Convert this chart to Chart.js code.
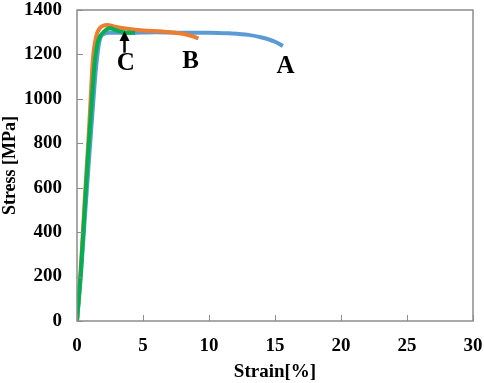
<!doctype html>
<html lang="en">
<head>
<meta charset="utf-8">
<title>Stress-strain</title>
<script src="https://cdn.jsdelivr.net/npm/chart.js@4.4.1/dist/chart.umd.min.js"></script>
<style>
  html, body { margin: 0; padding: 0; background: #fff; }
  #wrap { width: 484px; height: 383px; }
</style>
</head>
<body>
<div id="wrap"><canvas id="ssChart" width="484" height="383"></canvas></div>
<script>
// strain [%] / stress [MPa]
var strainA = [0, 0.3, 0.6, 0.9, 1.15, 1.35, 1.5, 1.7, 1.9, 2.4, 4, 6, 8, 10, 11.5, 13, 14, 15, 15.6];
var stressA = [0, 210, 470, 720, 920, 1080, 1175, 1260, 1288, 1298, 1298, 1300, 1298, 1298, 1295, 1288, 1276, 1257, 1238];

var strainB = [0, 0.3, 0.6, 0.85, 1.0, 1.2, 1.45, 1.75, 2.3, 2.8, 3.8, 5, 6.5, 8, 8.7, 9.2];
var stressB = [0, 250, 560, 800, 960, 1175, 1280, 1320, 1333, 1326, 1316, 1308, 1303, 1293, 1283, 1272];

var strainC = [0, 0.3, 0.6, 0.85, 1.05, 1.2, 1.36, 1.6, 2.0, 2.5, 3, 3.6, 4.4];
var stressC = [0, 230, 520, 760, 930, 1060, 1175, 1260, 1300, 1318, 1308, 1299, 1297];

var xTicks = [0, 5, 10, 15, 20, 25, 30];
var yTicks = [0, 200, 400, 600, 800, 1000, 1200, 1400];

// curve labels, placed in data units
var curveLabels = [
  {text: 'A', x: 15.8, y: 1144},
  {text: 'B', x: 8.6, y: 1166},
  {text: 'C', x: 3.7, y: 1160}
];
var arrowAt = {x: 3.6, from: 1208, to: 1305};

var serif = "'Liberation Serif', 'Times New Roman', serif";

function pts(xs, ys) {
  var out = [];
  for (var i = 0; i < xs.length; i++) out.push({x: xs[i], y: ys[i]});
  return out;
}

var extras = {
  id: 'extras',
  afterDatasetsDraw: function(chart) {
    var ctx = chart.ctx, xs = chart.scales.x, ys = chart.scales.y, a = chart.chartArea;
    ctx.save();
    // frame
    ctx.strokeStyle = '#8c8c8c';
    ctx.lineWidth = 1.5;
    ctx.strokeRect(a.left, a.top, a.right - a.left, a.bottom - a.top);
    // inward ticks
    ctx.beginPath();
    xTicks.forEach(function(v) {
      var px = Math.round(xs.getPixelForValue(v)) + 0.5;
      ctx.moveTo(px, a.bottom); ctx.lineTo(px, a.bottom - 6);
    });
    yTicks.forEach(function(v) {
      var py = Math.round(ys.getPixelForValue(v)) + 0.5;
      ctx.moveTo(a.left, py); ctx.lineTo(a.left + 6, py);
    });
    ctx.lineWidth = 1;
    ctx.stroke();
    // arrow for C
    var ax = xs.getPixelForValue(arrowAt.x);
    var y0 = ys.getPixelForValue(arrowAt.from), y1 = ys.getPixelForValue(arrowAt.to);
    ctx.strokeStyle = '#000';
    ctx.lineWidth = 2.5;
    ctx.beginPath();
    ctx.moveTo(ax, y0); ctx.lineTo(ax, y1 + 6);
    ctx.stroke();
    ctx.fillStyle = '#000';
    ctx.beginPath();
    ctx.moveTo(ax, y1); ctx.lineTo(ax - 5, y1 + 10); ctx.lineTo(ax + 5, y1 + 10);
    ctx.closePath();
    ctx.fill();
    // labels
    ctx.font = 'bold 25px ' + serif;
    ctx.textAlign = 'center';
    ctx.textBaseline = 'middle';
    curveLabels.forEach(function(l) {
      ctx.fillText(l.text, xs.getPixelForValue(l.x), ys.getPixelForValue(l.y));
    });
    ctx.restore();
  }
};

var lineStyle = {showLine: true, pointRadius: 0, borderWidth: 4, cubicInterpolationMode: 'monotone', fill: false};

new Chart(document.getElementById('ssChart').getContext('2d'), {
  type: 'scatter',
  data: {
    datasets: [
      Object.assign({label: 'C', data: pts(strainC, stressC), borderColor: '#00b050', order: 1}, lineStyle),
      Object.assign({label: 'B', data: pts(strainB, stressB), borderColor: '#ed7d31', order: 2}, lineStyle),
      Object.assign({label: 'A', data: pts(strainA, stressA), borderColor: '#5b9bd5', order: 3}, lineStyle)
    ]
  },
  options: {
    responsive: false,
    animation: false,
    layout: {padding: {top: 10, right: 11, left: 0, bottom: 0}},
    plugins: {legend: {display: false}, tooltip: {enabled: false}},
    scales: {
      x: {
        type: 'linear', min: 0, max: 30,
        afterBuildTicks: function(s) { s.ticks = xTicks.map(function(v) { return {value: v}; }); },
        afterFit: function(s) { s.height = 62; s.paddingLeft = 0; s.paddingRight = 0; },
        grid: {display: false, drawTicks: false},
        border: {display: false},
        ticks: {color: '#000', padding: 14, callback: function(v) { return String(v); },
                font: {family: serif, size: 19, weight: 'bold'}},
        title: {display: true, text: 'Strain[%]', color: '#000', padding: {top: 1, bottom: 0},
                font: {family: serif, size: 19, weight: 'bold'}}
      },
      y: {
        type: 'linear', min: 0, max: 1400,
        afterBuildTicks: function(s) { s.ticks = yTicks.map(function(v) { return {value: v}; }); },
        afterFit: function(s) { s.width = 77; s.paddingTop = 0; s.paddingBottom = 0; },
        grid: {display: false, drawTicks: false},
        border: {display: false},
        ticks: {color: '#000', padding: 15, callback: function(v) { return String(v); },
                font: {family: serif, size: 19, weight: 'bold'}},
        title: {display: true, text: 'Stress [MPa]', color: '#000', padding: {top: 0, bottom: 0},
                font: {family: serif, size: 18, weight: 'bold'}}
      }
    }
  },
  plugins: [extras]
});
</script>
</body>
</html>
